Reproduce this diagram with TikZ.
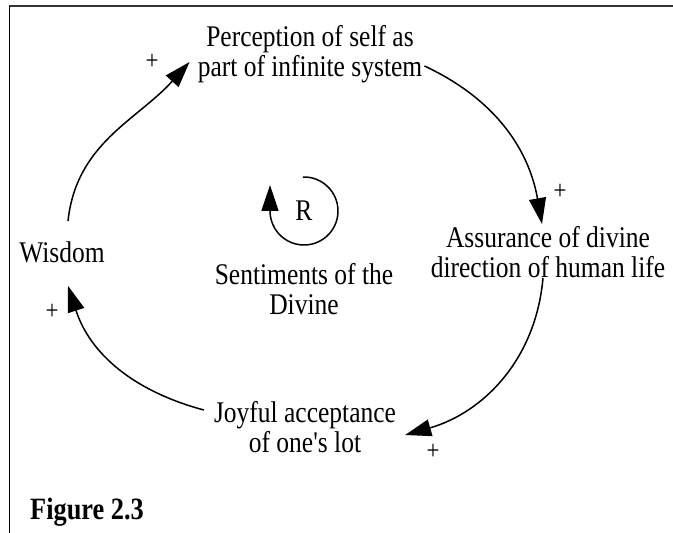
\documentclass[tikz,border=0pt]{standalone}
\usepackage{fontspec}
\setmainfont{Liberation Serif}[FakeStretch=0.85, Ligatures=TeXOff]
\usetikzlibrary{arrows.meta}
\begin{document}
\begin{tikzpicture}[x=1pt,y=1pt,
  lbl/.style={inner sep=0pt, align=center, font=\fontsize{30}{30}\selectfont},
  plus/.style={inner sep=0pt, font=\fontsize{27}{27}\selectfont},
  conn/.style={line width=1.5pt, -{Triangle[length=26pt,width=17pt]}}]
\useasboundingbox (0,0) rectangle (673,533);
% frame
\draw[line width=2pt, black!80] (9,527) -- (673,527);
\draw[line width=1.5pt] (9.5,527) -- (9.5,0);
% nodes
\node[lbl] (perc) at (310,479) {Perception of self as\\part of infinite system};
\node[lbl] (assur) at (548,281) {Assurance of divine\\direction of human life};
\node[lbl] (joy) at (305,106) {Joyful acceptance\\of one's lot};
\node[lbl] (wisdom) at (62,281) {Wisdom};
\node[lbl] (sent) at (304,244) {Sentiments of the\\Divine};
\node[lbl] (rnode) at (304,322) {R};
\node[inner sep=0pt, anchor=base west, font=\bfseries\fontsize{31}{31}\selectfont] (fig) at (30,13) {Figure 2.3};
% plus signs
\node[plus] (p1) at (152,471) {+};
\node[plus] (p2) at (560,341) {+};
\node[plus] (p3) at (433,81) {+};
\node[plus] (p4) at (52,221) {+};
% connectors
\draw[conn] ([shift={(2,-12)}]perc.east) to[out=-25, in=100] ([shift={(-6,2)}]assur.north);
\draw[conn] ([xshift=-5pt]assur.south) to[out=-95, in=16] ([shift={(9,-8)}]joy.east);
\draw[conn] ([shift={(-10,17)}]joy.west) to[out=165, in=-72] ([shift={(6,-23)}]wisdom.south);
\draw[conn] ([shift={(6,20)}]wisdom.north) to[out=84, in=228] ([shift={(-8,-8)}]perc.west);
% R loop
\draw[conn] ([shift={(92:34)}]rnode.center) arc[start angle=92, end angle=-180, radius=34] -- ++(0,26);
\end{tikzpicture}
\end{document}
